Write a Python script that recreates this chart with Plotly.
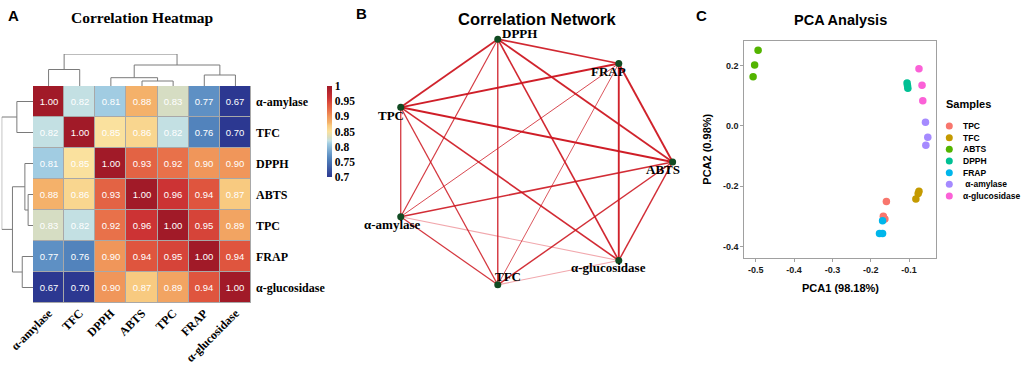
import math
import plotly.graph_objects as go

W, H = 1021, 369
def px(x): return x / W
def py(y): return 1 - y / H

SERIF = "Liberation Serif, Times New Roman, serif"
SANS = "Liberation Sans, Arial, sans-serif"

# ---------------- data ----------------
variables = ["α-amylase", "TFC", "DPPH", "ABTS", "TPC", "FRAP", "α-glucosidase"]
corr_amylase = [1.00, 0.82, 0.81, 0.88, 0.83, 0.77, 0.67]
corr_tfc     = [0.82, 1.00, 0.85, 0.86, 0.82, 0.76, 0.70]
corr_dpph    = [0.81, 0.85, 1.00, 0.93, 0.92, 0.90, 0.90]
corr_abts    = [0.88, 0.86, 0.93, 1.00, 0.96, 0.94, 0.87]
corr_tpc     = [0.83, 0.82, 0.92, 0.96, 1.00, 0.95, 0.89]
corr_frap    = [0.77, 0.76, 0.90, 0.94, 0.95, 1.00, 0.94]
corr_gluc    = [0.67, 0.70, 0.90, 0.87, 0.89, 0.94, 1.00]
corr = [corr_amylase, corr_tfc, corr_dpph, corr_abts, corr_tpc, corr_frap, corr_gluc]

# hierarchical clustering merges: (child a, child b, height); leaves 0..6, new clusters 7..
merges = [(3, 4, 5.0), (2, 7, 8.3), (5, 6, 11.0), (0, 1, 16.5), (8, 9, 21.0), (10, 11, 32.0)]

colorbar_ticks = [0.7, 0.75, 0.8, 0.85, 0.9, 0.95, 1.0]
colorbar_text = ["0.7", "0.75", "0.8", "0.85", "0.9", "0.95", "1"]

# network: circular layout order
net_order = ["ABTS", "FRAP", "DPPH", "TPC", "α-amylase", "TFC", "α-glucosidase"]

# PCA
pca_groups = ["TPC", "TFC", "ABTS", "DPPH", "FRAP", "\u00a0α-amylase", "α-glucosidase"]
pca_colors = ["#F8766D", "#C49A00", "#53B400", "#00C094", "#00B6EB", "#A58AFF", "#FB61D7"]
pca1_tpc = [-0.159, -0.167, -0.163]; pca2_tpc = [-0.250, -0.299, -0.308]
pca1_tfc = [-0.074, -0.076, -0.082]; pca2_tfc = [-0.216, -0.224, -0.242]
pca1_abts = [-0.494, -0.503, -0.507]; pca2_abts = [0.250, 0.201, 0.162]
pca1_dpph = [-0.105, -0.104, -0.103]; pca2_dpph = [0.142, 0.133, 0.124]
pca1_frap = [-0.169, -0.177, -0.169]; pca2_frap = [-0.314, -0.356, -0.356]
pca1_amy = [-0.057, -0.051, -0.056]; pca2_amy = [0.012, -0.038, -0.064]
pca1_glu = [-0.074, -0.066, -0.064]; pca2_glu = [0.189, 0.134, 0.083]
pca1 = [pca1_tpc, pca1_tfc, pca1_abts, pca1_dpph, pca1_frap, pca1_amy, pca1_glu]
pca2 = [pca2_tpc, pca2_tfc, pca2_abts, pca2_dpph, pca2_frap, pca2_amy, pca2_glu]
pca_xticks = [-0.5, -0.4, -0.3, -0.2, -0.1]
pca_yticks = [-0.4, -0.2, 0.0, 0.2]
pca_yticktext = ["-0.4", "-0.2", "0.0", "0.2"]

# ---------------- figure ----------------
fig = go.Figure()

heat_cs = [
    [0.0, "#2C3891"], [0.2, "#5283BC"], [0.233, "#5E90C4"], [0.367, "#A1CCE2"],
    [0.4, "#C3E0E3"], [0.433, "#D6DDC3"], [0.5, "#FAE19E"], [0.567, "#F8CA80"],
    [0.6, "#F4B16A"], [0.667, "#F0965A"], [0.733, "#E8714A"], [0.8, "#DF553E"],
    [0.867, "#CC3334"], [1.0, "#A11A28"],
]

n = len(variables)
fig.add_trace(go.Heatmap(
    z=corr, x=list(range(n)), y=list(range(n)),
    zmin=0.7, zmax=1.0, colorscale=heat_cs, xgap=1, ygap=1,
    texttemplate="%{z:.2f}", textfont=dict(family=SANS, size=9.5, color="white"),
    colorbar=dict(x=px(327.3), xanchor="left", xpad=0, ypad=0, thickness=4.5,
                  len=(176.7 - 86) / H, lenmode="fraction", y=py(86), yanchor="top",
                  outlinewidth=0, tickvals=colorbar_ticks, ticktext=colorbar_text, ticks="",
                  tickfont=dict(family=SERIF, size=11.5, color="black", weight="bold")),
    xaxis="x", yaxis="y", hoverinfo="skip",
))
fig.add_shape(type="rect", xref="x", yref="y", x0=-0.5, x1=n - 0.5, y0=-0.5, y1=n - 0.5,
              fillcolor="#A8A8A8", line=dict(width=0), layer="below")

# dendrograms
pos = {i: float(i) for i in range(n)}
hgt = {i: 0.0 for i in range(n)}
dx, dy = [], []
for k, (a, b, h) in enumerate(merges):
    node = n + k
    dx += [pos[a], pos[a], pos[b], pos[b], None]
    dy += [hgt[a], h, h, hgt[b], None]
    pos[node] = (pos[a] + pos[b]) / 2
    hgt[node] = h
dline = dict(color="#7A7A7A", width=1)
fig.add_trace(go.Scatter(x=dx, y=dy, mode="lines", line=dline, xaxis="x2", yaxis="y2",
                         hoverinfo="skip", showlegend=False, cliponaxis=False))
fig.add_trace(go.Scatter(x=dy, y=dx, mode="lines", line=dline, xaxis="x3", yaxis="y3",
                         hoverinfo="skip", showlegend=False, cliponaxis=False))

# network
m = len(net_order)
node_x = {name: math.cos(2 * math.pi * k / m) for k, name in enumerate(net_order)}
node_y = {name: math.sin(2 * math.pi * k / m) for k, name in enumerate(net_order)}
edges = []
for i in range(n):
    for j in range(i + 1, n):
        edges.append((corr[i][j], variables[i], variables[j]))
edges.sort()
for r, a, b in edges:
    if r < 0.75:
        col, wid = "rgba(225,60,70,0.45)", 1.1
    else:
        alpha = 0.8 + 0.2 * (r - 0.75) / 0.25
        col, wid = f"rgba(205,22,32,{alpha:.2f})", 0.9 + (r - 0.76) * 5.5
    fig.add_trace(go.Scatter(x=[node_x[a], node_x[b]], y=[node_y[a], node_y[b]], mode="lines",
                             line=dict(color=col, width=wid), xaxis="x4", yaxis="y4",
                             hoverinfo="skip", showlegend=False))
fig.add_trace(go.Scatter(x=[node_x[v] for v in net_order], y=[node_y[v] for v in net_order],
                         mode="markers", marker=dict(color="#114B22", size=7),
                         xaxis="x4", yaxis="y4", hoverinfo="skip", showlegend=False,
                         cliponaxis=False))
label_shift = {"DPPH": (21.8, 5.3), "FRAP": (-10, -7.7), "ABTS": (-9.4, -7.7),
               "α-glucosidase": (-10.3, -7.3), "TFC": (10.3, 8.3),
               "α-amylase": (-7.9, -8.3), "TPC": (-9.9, -7.7)}
for v in net_order:
    sx, sy = label_shift[v]
    fig.add_annotation(x=node_x[v], y=node_y[v], xref="x4", yref="y4", text=v, showarrow=False,
                       xshift=sx, yshift=sy,
                       font=dict(family=SERIF, size=13, color="black", weight="bold"))

# PCA
for g, c, xs, ys in zip(pca_groups, pca_colors, pca1, pca2):
    fig.add_trace(go.Scatter(x=xs, y=ys, mode="markers", marker=dict(color=c, size=7.5),
                             xaxis="x5", yaxis="y5", name=g, showlegend=False, hoverinfo="skip"))
# manual legend
fig.add_trace(go.Scatter(x=[9.3] * len(pca_groups), y=list(range(len(pca_groups))), mode="markers",
                         marker=dict(color=pca_colors, size=7), xaxis="x6", yaxis="y6",
                         showlegend=False, hoverinfo="skip", cliponaxis=False))
for i, g in enumerate(pca_groups):
    fig.add_annotation(x=20.7, y=i, xref="x6", yref="y6", text=g, showarrow=False,
                       xanchor="left", font=dict(family=SANS, size=8.5, color="black", weight="bold"))

# annotations (titles, panel letters)
def ann(x, y, text, size, family=SANS, anchor="center", angle=0):
    fig.add_annotation(x=px(x), y=py(y), xref="paper", yref="paper", text=text, showarrow=False,
                       xanchor=anchor, yanchor="middle", textangle=angle,
                       font=dict(family=family, size=size, color="black", weight="bold"))

ann(13, 15, "A", 15)
ann(361, 14, "B", 15)
ann(701, 15, "C", 15)
ann(142, 17, "Correlation Heatmap", 15.5, SERIF)
ann(537, 19, "Correlation Network", 16.5)
ann(840.3, 20, "PCA Analysis", 14.5)
ann(840.3, 288, "PCA1 (98.18%)", 11)
ann(706.7, 149, "PCA2 (0.98%)", 11, angle=-90)
ann(944, 104, "Samples", 11, anchor="left")

hidden = dict(visible=False, showgrid=False, zeroline=False, automargin=False)
pca_axis = dict(showgrid=False, zeroline=False, showline=True, mirror=True, linecolor="#A0A0A0",
                linewidth=1, ticks="outside", ticklen=3, tickcolor="#A0A0A0", automargin=False,
                tickfont=dict(family=SANS, size=9, color="#1A1A1A", weight="bold"))

fig.update_layout(
    width=W, height=H, margin=dict(l=0, r=0, t=0, b=0, autoexpand=False),
    paper_bgcolor="white", plot_bgcolor="white", showlegend=False,
    xaxis=dict(domain=[px(33), px(251)], range=[-0.5, n - 0.5], tickvals=list(range(n)),
               ticktext=variables, tickangle=-45, ticks="", showgrid=False, zeroline=False,
               automargin=False,
               tickfont=dict(family=SERIF, size=12, color="black", weight="bold")),
    yaxis=dict(domain=[py(303), py(86)], range=[n - 0.5, -0.5], tickvals=list(range(n)),
               ticktext=variables, side="right", ticks="", showgrid=False, zeroline=False,
               ticklabelstandoff=4, automargin=False,
               tickfont=dict(family=SERIF, size=12, color="black", weight="bold")),
    xaxis2=dict(domain=[px(33), px(251)], range=[-0.5, n - 0.5], anchor="y2", **hidden),
    yaxis2=dict(domain=[py(86), py(54)], range=[0, 32], anchor="x2", **hidden),
    xaxis3=dict(domain=[px(1.7), px(33)], range=[32, 0], anchor="y3", **hidden),
    yaxis3=dict(domain=[py(303), py(86)], range=[n - 0.5, -0.5], anchor="x3", **hidden),
    xaxis4=dict(domain=[px(350.8), px(708.4)], range=[-1.25, 1.25], anchor="y4", **hidden),
    yaxis4=dict(domain=[py(313.2), py(10.8)], range=[-1.2, 1.2], anchor="x4", **hidden),
    xaxis5=dict(domain=[px(744.3), px(936)], range=[-0.530, -0.0295], anchor="y5",
                tickvals=pca_xticks, ticktext=[f"{v:.1f}" for v in pca_xticks], **pca_axis),
    yaxis5=dict(domain=[py(258.3), py(40.7)], range=[-0.438, 0.2815], anchor="x5",
                tickvals=pca_yticks, ticktext=pca_yticktext, **pca_axis),
    xaxis6=dict(domain=[px(940), px(1020)], range=[0, 80], anchor="y6", **hidden),
    yaxis6=dict(domain=[py(205), py(117)], range=[6.771, -0.771], anchor="x6", **hidden),
)

fig.write_html("out.html", config={"displayModeBar": False},
               post_script="document.body.style.margin='0';")
